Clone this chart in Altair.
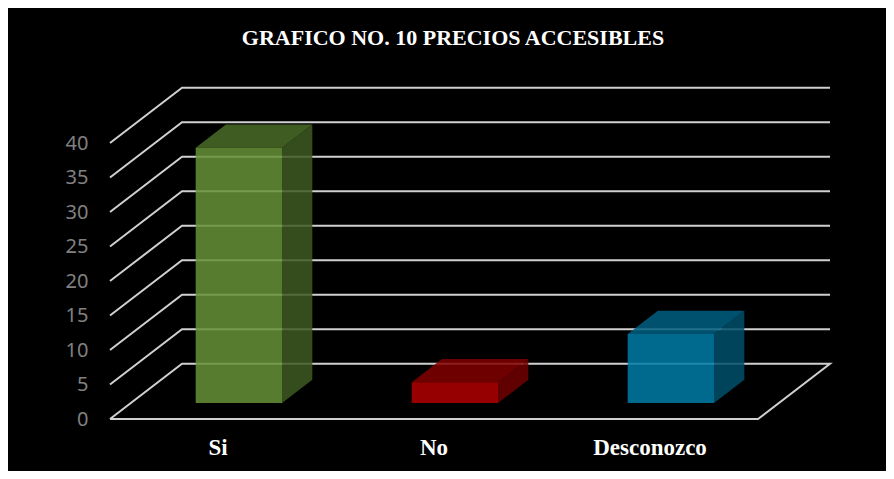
import altair as alt
import pandas as pd

# ---- data ----
categories = ["Si", "No", "Desconozco"]
values = [37, 3, 10]
tick_values = [0, 5, 10, 15, 20, 25, 30, 35, 40]
title_text = "GRAFICO NO. 10 PRECIOS ACCESIBLES"

front_colors = ["#669237", "#b00000", "#007da7"]
top_colors = ["#4a6d28", "#810000", "#005f81"]
side_colors = ["#3e5921", "#710000", "#00506c"]

# ---- pseudo-3D projection constants (style) ----
DX = 1 / 3      # depth shift along x (category units)
DY = 8.0        # depth shift along y (value units)
HALF = 0.2      # half bar width (category units)
D0, D1 = 0.29, 0.71   # bar front/back depth (0 = front of floor, 1 = back wall)
X_MIN, X_MAX = -0.5, len(categories) - 0.5
Y_MAX = 50

# gridlines: diagonal on the left side wall, then horizontal on the back wall
grid_rows = []
for t in tick_values:
    pts = [(X_MIN, t), (X_MIN + DX, t + DY), (X_MAX + DX, t + DY)]
    if t == 0:
        pts += [(X_MAX, 0), (X_MIN, 0)]
    for k, (gx, gy) in enumerate(pts):
        grid_rows.append({"tick": t, "order": k, "x": gx, "y": gy})
grid_df = pd.DataFrame(grid_rows)

front_rows, top_rows, side_rows, label_rows = [], [], [], []
for i, (c, v) in enumerate(zip(categories, values)):
    front_rows.append({"cat": c, "x": i - HALF + D0 * DX, "x2": i + HALF + D0 * DX,
                       "y": D0 * DY, "y2": v + D0 * DY, "col": front_colors[i]})
    for d in (D0, D1):
        top_rows.append({"cat": c, "y": v + d * DY, "x": i - HALF + d * DX,
                         "x2": i + HALF + d * DX, "col": top_colors[i]})
        side_rows.append({"cat": c, "x": i + HALF + d * DX, "y": d * DY,
                          "y2": v + d * DY, "col": side_colors[i]})
    label_rows.append({"cat": c, "x": i, "y": 0})

front_df = pd.DataFrame(front_rows)
top_df = pd.DataFrame(top_rows)
side_df = pd.DataFrame(side_rows)
label_df = pd.DataFrame(label_rows)

xscale = alt.Scale(domain=[X_MIN, X_MAX + DX], nice=False, zero=False)
yscale = alt.Scale(domain=[0, Y_MAX], nice=False, zero=False)
yaxis = alt.Axis(
    values=tick_values, grid=False, domain=False, ticks=False,
    labelColor="#808080", labelFont="Noto Sans", labelFontSize=20,
    labelPadding=22, title=None)


def X(f):
    return alt.X(f, scale=xscale, axis=None)


def Y(f):
    return alt.Y(f, scale=yscale, axis=yaxis)


grid = alt.Chart(grid_df).mark_line(color="#d0d0d0", strokeWidth=2).encode(
    x=X("x:Q"), y=Y("y:Q"), detail="tick:N", order="order:Q",
)

side = alt.Chart(side_df).mark_area(orient="vertical", opacity=0.85).encode(
    x=X("x:Q"), y=Y("y:Q"), y2="y2:Q", detail="cat:N",
    color=alt.Color("col:N", scale=None),
)

top = alt.Chart(top_df).mark_area(orient="horizontal", opacity=0.85).encode(
    y=Y("y:Q"), x=X("x:Q"), x2="x2:Q", detail="cat:N",
    color=alt.Color("col:N", scale=None),
)

front = alt.Chart(front_df).mark_rect(opacity=0.85).encode(
    x=X("x:Q"), x2="x2:Q", y=Y("y:Q"), y2="y2:Q",
    color=alt.Color("col:N", scale=None),
)

labels = alt.Chart(label_df).mark_text(
    font="Liberation Serif", fontWeight="bold", fontSize=23, color="white",
    dy=29, baseline="middle", align="center",
).encode(
    x=X("x:Q"), y=Y("y:Q"), text="cat:N",
)

chart = alt.layer(grid, side, top, front, labels).properties(
    width=720,
    height=345,
    autosize=alt.AutoSizeParams(type="none"),
    padding={"left": 102, "top": 66, "right": 56, "bottom": 52},
    background="black",
    title=alt.TitleParams(
        text=title_text, font="Liberation Serif", fontWeight="bold",
        fontSize=22, color="white", anchor="middle", offset=24, dx=-17,
    ),
).configure_view(stroke=None)

chart.save("out.html", embed_options={"renderer": "svg", "actions": False})
